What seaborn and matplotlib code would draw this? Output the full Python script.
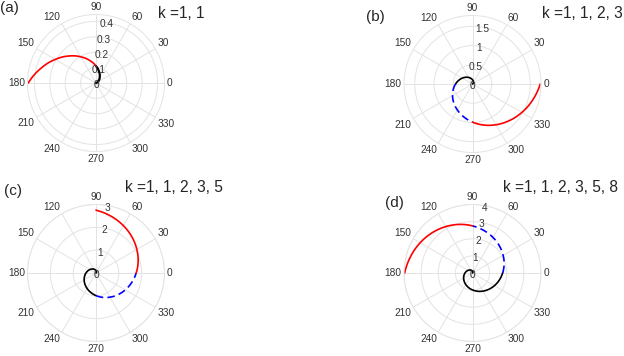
import numpy as np
import matplotlib
matplotlib.use('Agg')
import matplotlib.pyplot as plt
import seaborn as sns

sns.set_theme(style='white')
plt.rcParams['font.family'] = ['Liberation Sans', 'DejaVu Sans']

# spiral: angle (deg) and radius, every 15 deg
theta_deg = [0, 15, 30, 45, 60, 75, 90, 105, 120, 135, 150, 165, 180,
             195, 210, 225, 240, 255, 270, 285, 300, 315, 330, 345, 360,
             375, 390, 405, 420, 435, 450, 465, 480, 495, 510, 525, 540]
radius = [0.000, 0.003, 0.012, 0.028, 0.049, 0.076, 0.110, 0.150, 0.196,
          0.248, 0.306, 0.370, 0.440, 0.516, 0.599, 0.688, 0.782, 0.883,
          0.990, 1.103, 1.222, 1.348, 1.479, 1.617, 1.760, 1.910, 2.066,
          2.228, 2.396, 2.570, 2.750, 2.936, 3.128, 3.326, 3.530, 3.740,
          3.960]

panel_tags = ['(a)', '(b)', '(c)', '(d)']
k_values = [[1, 1], [1, 1, 2, 3], [1, 1, 2, 3, 5], [1, 1, 2, 3, 5, 8]]
r_limits = [0.445, 1.78, 3, 4]
r_ticks = [[0, 0.1, 0.2, 0.3, 0.4], [0, 0.5, 1, 1.5], [0, 1, 2, 3], [0, 1, 2, 3, 4]]
r_ticklabels = [['0', '0.1', '0.2', '0.3', '0.4'], ['0', '0.5', '1', '1.5'],
                ['0', '1', '2', '3'], ['0', '1', '2', '3', '4']]
angle_ticks = [0, 30, 60, 90, 120, 150, 180, 210, 240, 270, 300, 330]

W, H = 624, 356
fig = plt.figure(figsize=(W / 100, H / 100), dpi=100)

R = 68.5
centers = [(96, 83), (472.5, 84), (96, 273), (472.5, 273)]
tag_pos = [(0, 8), (366, 17), (4, 191), (385, 203)]
title_pos = [(158, 13), (542, 13), (125, 188), (503, 187)]

th = np.deg2rad(theta_deg)
rr = np.array(radius)
grid_col = '#e3e3e3'
lab_col = '#333333'

for i in range(4):
    cx, cy = centers[i]
    ax = fig.add_axes([(cx - R) / W, (H - cy - R) / H, 2 * R / W, 2 * R / H],
                      projection='polar')
    nq = len(k_values[i])
    end = 6 * nq
    # last quarter red, the one before blue dashed (if any), rest black
    if nq > 2:
        blk = slice(0, end - 11)
        blu = slice(end - 12, end - 5)
    else:
        blk = slice(0, end - 5)
        blu = None
    red = slice(end - 6, end + 1)
    sns.lineplot(x=th[blk], y=rr[blk], ax=ax, color='black', sort=False,
                 estimator=None, lw=1.6 if nq == 2 else 1.2)
    if blu is not None:
        sns.lineplot(x=th[blu], y=rr[blu], ax=ax, color='blue', sort=False,
                     estimator=None, lw=1.2, linestyle=(0, (4.5, 2.5)))
    sns.lineplot(x=th[red], y=rr[red], ax=ax, color='red', sort=False,
                 estimator=None, lw=1.2)
    # let the polar transform draw each step as a spiral arc
    for ln in ax.lines:
        ln.get_path()._interpolation_steps = 12

    rmax = r_limits[i]
    ax.set_xlim(0, 2 * np.pi)
    ax.set_ylim(0, rmax)
    ax.set_xticks(np.deg2rad(angle_ticks))
    ax.set_xticklabels([])
    ax.set_yticks(r_ticks[i])
    ax.set_yticklabels([])
    ax.tick_params(length=0)
    ax.grid(True, color=grid_col, lw=0.7)
    ax.spines['polar'].set_color(grid_col)
    ax.spines['polar'].set_linewidth(0.7)
    ax.set_xlabel('')
    ax.set_ylabel('')
    ax.set_facecolor('white')

    # angle labels sit just outside the rim, aligned away from the centre
    for a in angle_ticks:
        ang = np.deg2rad(a)
        c, s = np.cos(ang), np.sin(ang)
        ha = 'left' if c > 0.01 else ('right' if c < -0.01 else 'center')
        va = 'bottom' if s > 0.01 else ('top' if s < -0.01 else 'center')
        ax.annotate(str(a), xy=(ang, rmax), xytext=(1.8 * c, 1.8 * s),
                    textcoords='offset points', ha=ha, va=va, fontsize=7.3,
                    color=lab_col, annotation_clip=False)
    # radius labels along the 80 deg ray
    for rt, rl in zip(r_ticks[i], r_ticklabels[i]):
        ax.annotate(rl, xy=(np.deg2rad(80), rt), xytext=(0, -1.5),
                    textcoords='offset points', ha='center', va='center',
                    fontsize=7.3, color=lab_col, annotation_clip=False)

    tx, ty = tag_pos[i]
    fig.text(tx / W, 1 - ty / H, panel_tags[i], fontsize=11, ha='left', va='center')
    kx, ky = title_pos[i]
    fig.text(kx / W, 1 - ky / H, 'k =' + ', '.join(str(k) for k in k_values[i]),
             fontsize=11.2, ha='left', va='center')

fig.savefig('out.png', dpi=100, facecolor='white')
